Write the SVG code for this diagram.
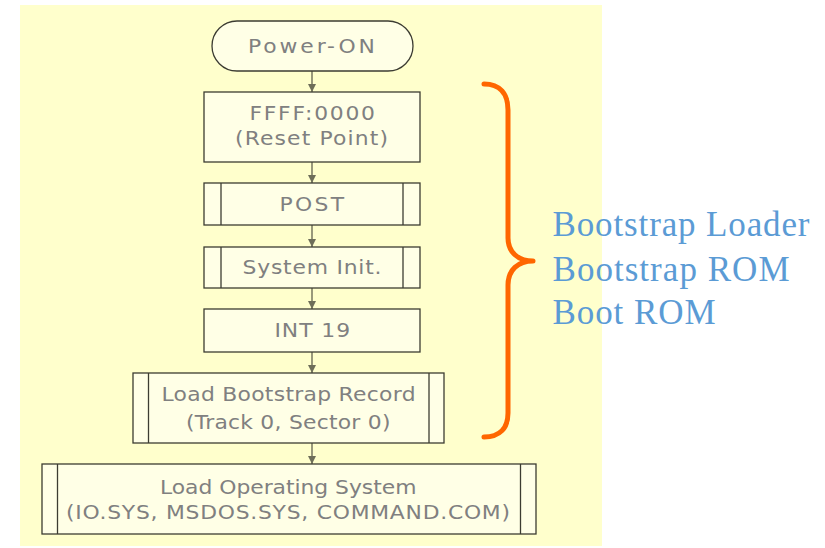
<svg xmlns="http://www.w3.org/2000/svg" width="825" height="548" viewBox="0 0 825 548">
  <style>
    .box { fill: #FFFFE6; stroke: #3C3C32; stroke-width: 1.3; }
    .bar { stroke: #3C3C32; stroke-width: 1.3; fill: none; }
    .lbl { font-family: "DejaVu Sans", "Liberation Sans", sans-serif; font-size: 19px; fill: #808080; text-anchor: start; }
    .conn { stroke: #6E6E58; stroke-width: 1.4; fill: none; marker-end: url(#head); }
    .note { font-family: "Liberation Serif", "Times New Roman", serif; font-size: 35px; fill: #5B9BD5; }
  </style>
  <defs>
    <marker id="head" viewBox="0 0 8 8" refX="8" refY="4" markerWidth="8" markerHeight="8" markerUnits="userSpaceOnUse" orient="auto">
      <path d="M0,0 L8,4 L0,8 Z" fill="#6E6E58"/>
    </marker>
  </defs>

  <!-- panel -->
  <rect x="20" y="5" width="582" height="541" fill="#FFFFCC"/>

  <!-- connectors -->
  <g id="connectors">
    <line class="conn" x1="312" y1="71" x2="312" y2="92"/>
    <line class="conn" x1="312" y1="162" x2="312" y2="183"/>
    <line class="conn" x1="312" y1="225" x2="312" y2="247"/>
    <line class="conn" x1="312" y1="288" x2="312" y2="309"/>
    <line class="conn" x1="312" y1="352" x2="312" y2="373"/>
    <line class="conn" x1="312" y1="443" x2="312" y2="464"/>
  </g>

  <!-- labels use a slightly widened sans face: translate(start, baseline) scale(1.15,1) -->
  <g id="power-on">
    <rect class="box" x="212" y="21" width="201" height="50" rx="25" ry="25"/>
    <text class="lbl" transform="translate(248,52.5) scale(1.15,1)" textLength="110.4" lengthAdjust="spacing">Power-ON</text>
  </g>

  <g id="reset-point">
    <rect class="box" x="204" y="92" width="216" height="70"/>
    <text class="lbl" transform="translate(249.5,119.5) scale(1.15,1)" textLength="109.1" lengthAdjust="spacing">FFFF:0000</text>
    <text class="lbl" transform="translate(235,144.5) scale(1.15,1)" textLength="133" lengthAdjust="spacing">(Reset Point)</text>
  </g>

  <g id="post">
    <rect class="box" x="204" y="183" width="216" height="42"/>
    <line class="bar" x1="221" y1="183" x2="221" y2="225"/>
    <line class="bar" x1="403" y1="183" x2="403" y2="225"/>
    <text class="lbl" transform="translate(279.5,211) scale(1.15,1)" textLength="56.1" lengthAdjust="spacing">POST</text>
  </g>

  <g id="system-init">
    <rect class="box" x="204" y="247" width="216" height="41"/>
    <line class="bar" x1="221" y1="247" x2="221" y2="288"/>
    <line class="bar" x1="403" y1="247" x2="403" y2="288"/>
    <text class="lbl" transform="translate(242.5,273.5) scale(1.15,1)" textLength="120.9" lengthAdjust="spacing">System Init.</text>
  </g>

  <g id="int19">
    <rect class="box" x="204" y="309" width="216" height="43"/>
    <text class="lbl" transform="translate(274.5,337) scale(1.15,1)" textLength="65.7" lengthAdjust="spacing">INT 19</text>
  </g>

  <g id="load-bootstrap">
    <rect class="box" x="133" y="373" width="311" height="70"/>
    <line class="bar" x1="148.5" y1="373" x2="148.5" y2="443"/>
    <line class="bar" x1="429" y1="373" x2="429" y2="443"/>
    <text class="lbl" transform="translate(161.5,401) scale(1.15,1)" textLength="220.9" lengthAdjust="spacing">Load Bootstrap Record</text>
    <text class="lbl" transform="translate(186,428.5) scale(1.15,1)" textLength="177.8" lengthAdjust="spacing">(Track 0, Sector 0)</text>
  </g>

  <g id="load-os">
    <rect class="box" x="42" y="464" width="494" height="70"/>
    <line class="bar" x1="57.5" y1="464" x2="57.5" y2="534"/>
    <line class="bar" x1="520.5" y1="464" x2="520.5" y2="534"/>
    <text class="lbl" transform="translate(160,493.5) scale(1.15,1)" textLength="223" lengthAdjust="spacing">Load Operating System</text>
    <text class="lbl" transform="translate(66,518.5) scale(1.15,1)" textLength="386.1" lengthAdjust="spacing">(IO.SYS, MSDOS.SYS, COMMAND.COM)</text>
  </g>

  <!-- brace grouping the ROM stages -->
  <g id="brace">
    <path d="M484,84 C500,84 508,94 508,110 L508,238 C508,252 518,261 533,261 C518,261 508,270 508,285 L508,413 C508,428 500,437 484,437" fill="none" stroke="#FF6600" stroke-width="5" stroke-linecap="round" stroke-linejoin="round"/>
  </g>

  <g id="brace-label">
    <text class="note" x="552.5" y="236" textLength="257" lengthAdjust="spacing">Bootstrap Loader</text>
    <text class="note" x="552.5" y="281" textLength="237" lengthAdjust="spacing">Bootstrap ROM</text>
    <text class="note" x="552.5" y="323.5" textLength="163" lengthAdjust="spacing">Boot ROM</text>
  </g>
</svg>
